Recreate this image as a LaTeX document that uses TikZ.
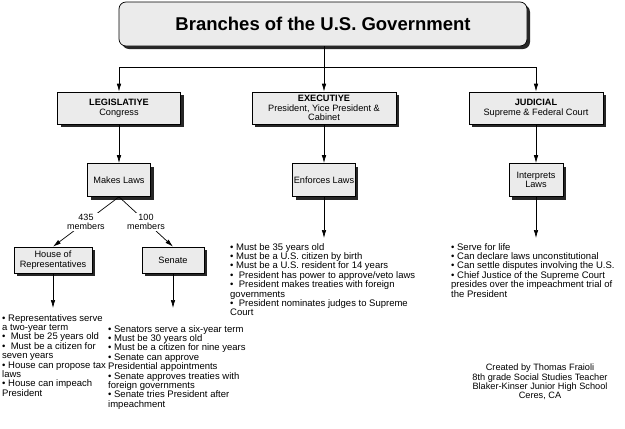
\documentclass[tikz,border=0pt]{standalone}
\usepackage{fontspec}
\setmainfont{Liberation Sans}
\usetikzlibrary{arrows.meta,shadows}
\tikzset{
  box/.style={draw=black, line width=0.7pt, fill=black!8, inner sep=1pt, align=center,
    font=\fontsize{9.2}{9.6}\selectfont,
    drop shadow={shadow xshift=3pt, shadow yshift=-3pt, fill=black!85, opacity=1}},
  conn/.style={line width=0.7pt, -{Latex[length=8pt,width=4.5pt]}},
  lbl/.style={fill=white, inner sep=1pt, align=center, font=\fontsize{9}{9.5}\selectfont},
  txt/.style={anchor=north west, inner sep=0pt, align=left, font=\fontsize{9.5}{9.4}\selectfont},
}
\begin{document}
\begin{tikzpicture}[x=1pt,y=-1pt]
\useasboundingbox (0,0) rectangle (625,429);
\fill[white] (0,0) rectangle (625,429);
% title
\node[box, rounded corners=7pt, minimum width=408pt, minimum height=44pt,
  font=\fontsize{18.5}{19}\bfseries] (title) at (323,24) {Branches of the U.S. Government};
% branches
\node[box, minimum width=123pt, minimum height=32pt] (leg) at (119,108)
  {\textbf{LEGISLATIYE}\\Congress};
\node[box, minimum width=144pt, minimum height=32pt] (exe) at (324,108)
  {\textbf{EXECUTIYE}\\President, Yice President \&\\Cabinet};
\node[box, minimum width=134pt, minimum height=32pt] (jud) at (536,108)
  {\textbf{JUDICIAL}\\Supreme \& Federal Court};
% functions
\node[box, minimum width=63pt, minimum height=33pt] (makes) at (119,180) {Makes Laws};
\node[box, minimum width=62pt, minimum height=33pt] (enf) at (324,180) {Enforces Laws};
\node[box, minimum width=54pt, minimum height=33pt] (intp) at (536,180) {Interprets\\Laws};
% chambers
\node[box, minimum width=78pt, minimum height=26pt] (house) at (53,260) {House of\\Representatives};
\node[box, minimum width=62pt, minimum height=26pt] (senate) at (173,260) {Senate};
% connectors
\coordinate (j) at (324,67);
\draw[conn] (title.south -| j) -- (exe.north);
\draw[conn] (j) -| (leg.north);
\draw[conn] (j) -| (jud.north);
\draw[conn] (leg.south) -- (makes.north);
\draw[conn] (exe.south) -- (enf.north);
\draw[conn] (jud.south) -- (intp.north);
\draw[conn] (makes.south) -- node[lbl] {435\\members} (house.north);
\draw[conn] (makes.south) -- node[lbl] {100\\members} (senate.north);
\coordinate (enfEnd) at (324,238);
\coordinate (intEnd) at (536,238);
\coordinate (houseEnd) at (53,308);
\coordinate (senEnd) at (173,308);
\draw[conn] (enf.south) -- (enfEnd);
\draw[conn] (intp.south) -- (intEnd);
\draw[conn] (house.south) -- (houseEnd);
\draw[conn] (senate.south) -- (senEnd);
% texts
\node[txt] (exetxt) at (230,243) {• Must be 35 years old\\
• Must be a U.S. citizen by birth\\
• Must be a U.S. resident for 14 years\\
•\ \ President has power to approve/veto laws\\
•\ \ President makes treaties with foreign\\
governments\\
•\ \ President nominates judges to Supreme\\
Court};
\node[txt] (judtxt) at (451,243) {• Serve for life\\
• Can declare laws unconstitutional\\
• Can settle disputes involving the U.S.\\
• Chief Justice of the Supreme Court\\
presides over the impeachment trial of\\
the President};
\node[txt] (housetxt) at (2,314) {• Representatives serve\\
a two-year term\\
•\ \ Must be 25 years old\\
•\ \ Must be a citizen for\\
seven years\\
• House can propose tax\\
laws\\
• House can impeach\\
President};
\node[txt] (sentxt) at (108,325) {• Senators serve a six-year term\\
• Must be 30 years old\\
• Must be a citizen for nine years\\
• Senate can approve\\
Presidential appointments\\
• Senate approves treaties with\\
foreign governments\\
• Senate tries President after\\
impeachment};
\node[anchor=north, inner sep=0pt, align=center, font=\fontsize{9.2}{9.2}\selectfont] (credit) at (540,364)
  {Created by Thomas Fraioli\\8th grade Social Studies Teacher\\Blaker-Kinser Junior High School\\Ceres, CA};
\end{tikzpicture}
\end{document}
